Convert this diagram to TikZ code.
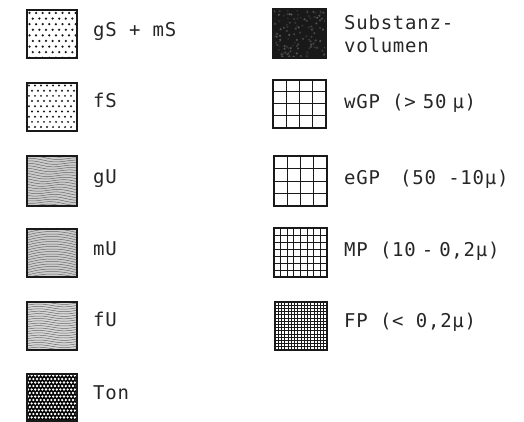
\documentclass[tikz,border=0pt]{standalone}
\usepackage{fontspec}
\newfontfamily\legfont[LetterSpace=4]{DejaVu Sans Mono}
\begin{document}
\begin{tikzpicture}[x=1pt,y=-1pt]
\useasboundingbox (0,0) rectangle (524,422);
\tikzset{
  lab/.style={anchor=base west, inner sep=0pt, font=\legfont\fontsize{19}{23}\selectfont, text=black!85},
  frameL/.style={draw=black!90, line width=1.9pt},
  frameR/.style={draw=black!90, line width=1.6pt},
  wave/.style={black!60, line width=0.5pt},
  gridl/.style={black!90, line width=1pt},
  dotc/.style={black!90}
}
% ---------------- left column ----------------
% gS + mS
\begin{scope}
  \clip (27,10) rectangle (77,58);
  \fill[white] (27,10) rectangle (77,58);
  \foreach \r in {0,...,8} \foreach \c in {0,...,8}
    \fill[dotc] ({29.5+\c*6.6+mod(\r,2)*3.3},{13+\r*5.6}) circle (1.25);
\end{scope}
\draw[frameL] (27,10) rectangle (77,58);
\node[lab] (t1) at (93,37) {gS + mS};
% fS
\begin{scope}
  \clip (27,83) rectangle (77,131);
  \fill[white] (27,83) rectangle (77,131);
  \foreach \r in {0,...,9} \foreach \c in {0,...,9}
    \fill[dotc] ({29+\c*6+mod(\r,2)*3},{85.5+\r*5.2}) circle (1.1);
\end{scope}
\draw[frameL] (27,83) rectangle (77,131);
\node[lab] (t2) at (93,108) {fS};
% gU
\begin{scope}
  \clip (27,156) rectangle (77,206);
  \fill[gray!40] (27,156) rectangle (77,206);
  \foreach \k in {-1,...,20}
    \draw[wave] plot[domain=27:77, samples=18, smooth] (\x,{157+\k*2.5+1.3*sin(\x*8+\k*12)+0.04*(\x-27)});
\end{scope}
\draw[frameL] (27,156) rectangle (77,206);
\node[lab] (t3) at (93,183) {gU};
% mU
\begin{scope}
  \clip (27,229) rectangle (77,277);
  \fill[gray!40] (27,229) rectangle (77,277);
  \foreach \k in {-2,...,20}
    \draw[wave] plot[domain=27:77, samples=18, smooth] (\x,{229+\k*2.5+0.006*(\x-52)*(\x-52)});
\end{scope}
\draw[frameL] (27,229) rectangle (77,277);
\node[lab] (t4) at (93,255) {mU};
% fU
\begin{scope}
  \clip (27,302) rectangle (77,350);
  \fill[gray!32] (27,302) rectangle (77,350);
  \foreach \k in {-1,...,20}
    \draw[wave] plot[domain=27:77, samples=18, smooth] (\x,{303+\k*2.4+1.4*sin(\x*7)});
\end{scope}
\draw[frameL] (27,302) rectangle (77,350);
\node[lab] (t5) at (93,326) {fU};
% Ton
\begin{scope}
  \clip (27,374) rectangle (77,421);
  \fill[black] (27,374) rectangle (77,421);
  \foreach \r in {0,...,13} \foreach \c in {0,...,14}
    \fill[white] ({28+\c*3.6+mod(\r,2)*1.8},{375.5+\r*3.5}) circle (1.3);
\end{scope}
\draw[frameL] (27,374) rectangle (77,421);
\node[lab] (t6) at (93,399) {Ton};
% ---------------- right column ----------------
% Substanzvolumen
\begin{scope}
  \clip (273,9) rectangle (326,58);
  \fill[black!90] (273,9) rectangle (326,58);
  \pgfmathsetseed{7}
  \foreach \i in {1,...,120} {
    \pgfmathsetmacro\px{273+53*rnd}
    \pgfmathsetmacro\py{9+49*rnd}
    \pgfmathsetmacro\g{65+20*rnd}
    \fill[black!\g] (\px,\py) circle (1.2);
  }
\end{scope}
\draw[frameR] (273,9) rectangle (326,58);
\node[lab] (t7) at (344,30) {Substanz-};
\node[lab] (t8) at (344,53) {volumen};
% wGP
\fill[white] (273,80) rectangle (326,128);
\foreach \i in {1,...,3} {
  \draw[gridl] ({273+\i*13.25},80) -- ({273+\i*13.25},128);
  \draw[gridl] (273,{80+\i*12}) -- (326,{80+\i*12});
}
\draw[frameR] (273,80) rectangle (326,128);
\node[lab] (t9) at (344,109) {wGP (>\hspace{7pt}50\hspace{6pt}μ)};
% eGP
\fill[white] (274,156) rectangle (327,206);
\foreach \i in {1,...,3} {
  \draw[gridl] ({274+\i*13.25},156) -- ({274+\i*13.25},206);
  \draw[gridl] (274,{156+\i*12.5}) -- (327,{156+\i*12.5});
}
\draw[frameR] (274,156) rectangle (327,206);
\node[lab] (t10) at (344,185) {eGP\hspace{8pt} (50 -10μ)};
% MP
\fill[white] (274,228) rectangle (327,277);
\foreach \i in {1,...,7}
  \draw[gridl, line width=0.8pt] ({274+\i*6.625},228) -- ({274+\i*6.625},277);
\foreach \i in {1,...,6}
  \draw[gridl, line width=0.8pt] (274,{228+\i*7}) -- (327,{228+\i*7});
\draw[frameR] (274,228) rectangle (327,277);
\node[lab] (t11) at (344,256) {MP (10\hspace{6pt}-\hspace{6pt}0,2μ)};
% FP
\fill[white] (275,302) rectangle (327,350);
\foreach \i in {1,...,15}
  \draw[gridl, line width=0.75pt] ({275+\i*3.25},302) -- ({275+\i*3.25},350);
\foreach \i in {1,...,14}
  \draw[gridl, line width=0.75pt] (275,{302+\i*3.2}) -- (327,{302+\i*3.2});
\draw[frameR] (275,302) rectangle (327,350);
\node[lab] (t12) at (344,327) {FP (< 0,2μ)};
\end{tikzpicture}
\end{document}
